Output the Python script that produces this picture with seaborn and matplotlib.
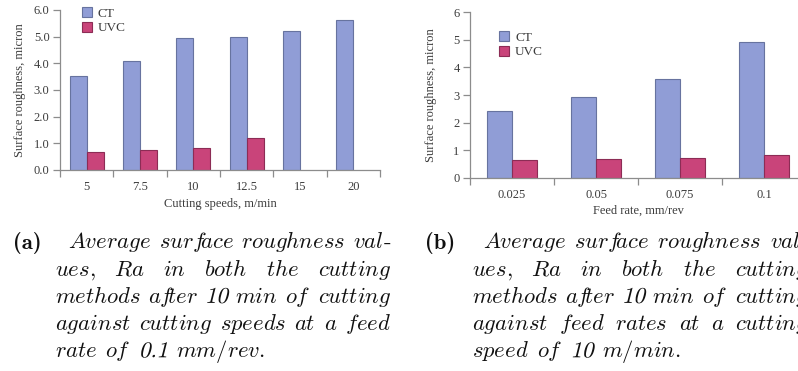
import re
import numpy as np
import pandas as pd
import matplotlib
matplotlib.use("Agg")
import matplotlib.pyplot as plt
from matplotlib.patches import Patch, PathPatch
from matplotlib.textpath import TextPath
from matplotlib.font_manager import FontProperties
from matplotlib.transforms import Affine2D, IdentityTransform
import seaborn as sns

# ---- data -------------------------------------------------------------
methods = ["CT", "UVC"]

speeds = ["5", "7.5", "10", "12.5", "15", "20"]
ct_speed = [3.52, 4.09, 4.94, 4.98, 5.21, 5.61]
uvc_speed = [0.69, 0.76, 0.81, 1.21, np.nan, np.nan]
speed_yticks = ["0.0", "1.0", "2.0", "3.0", "4.0", "5.0", "6.0"]

feeds = ["0.025", "0.05", "0.075", "0.1"]
ct_feed = [2.42, 2.93, 3.59, 4.93]
uvc_feed = [0.63, 0.68, 0.73, 0.83]
feed_yticks = ["0", "1", "2", "3", "4", "5", "6"]

caption_a = [
    "Average surface roughness val-",
    "ues, Ra in both the cutting",
    "methods after 10 min of cutting",
    "against cutting speeds at a feed",
    "rate of 0.1 mm/rev.",
]
caption_b = [
    "Average surface roughness val-",
    "ues, Ra in both the cutting",
    "methods after 10 min of cutting",
    "against feed rates at a cutting",
    "speed of 10 m/min.",
]

# ---- style ------------------------------------------------------------
sns.set_style("ticks")
plt.rcParams["font.family"] = ["Liberation Serif", "DejaVu Serif"]
plt.rcParams["mathtext.fontset"] = "cm"

fills = {"CT": "#909dd6", "UVC": "#c9447a"}
edges = {"CT": "#67739f", "UVC": "#8c2c55"}
axis_grey = "#8c8c8c"
text_grey = "#3c3c3c"
ink = "#111111"
TICK_FS = 9
LABEL_FS = 9
LEG_FS = 9.5
CAP_FS = 16.3

W_PX, H_PX = 798, 371
fig = plt.figure(figsize=(W_PX / 100, H_PX / 100), dpi=100)


def fx(x):
    return x / W_PX


def fy(y):
    return 1 - y / H_PX


def bar_panel(ax, cats, ct, uvc, yticklabels, xlabel, bar_width, legend_xy):
    df = pd.DataFrame({
        "cat": cats * 2,
        "method": ["CT"] * len(cats) + ["UVC"] * len(cats),
        "ra": list(ct) + list(uvc),
    })
    sns.barplot(data=df, x="cat", y="ra", hue="method", order=cats,
                hue_order=methods, palette=fills, saturation=1,
                width=bar_width, legend=False, ax=ax)
    for container, m in zip(ax.containers, methods):
        for bar in container:
            bar.set_edgecolor(edges[m])
            bar.set_linewidth(0.8)

    n = len(cats)
    ax.set_xlim(-0.5, n - 0.5)
    ax.set_xticks(np.arange(n + 1) - 0.5, labels=[""] * (n + 1))
    ax.set_xticks(np.arange(n), labels=cats, minor=True)
    ax.tick_params(axis="x", which="major", length=5, width=0.9,
                   color=axis_grey, direction="out")
    ax.tick_params(axis="x", which="minor", length=0, pad=8,
                   labelsize=TICK_FS, labelcolor=text_grey)
    ax.set_ylim(0, 6)
    ax.set_yticks(range(7), labels=yticklabels)
    ax.tick_params(axis="y", length=5, width=0.9, color=axis_grey, pad=2.5,
                   labelsize=TICK_FS, labelcolor=text_grey)
    sns.despine(ax=ax)
    for side in ("left", "bottom"):
        ax.spines[side].set_color(axis_grey)
        ax.spines[side].set_linewidth(0.9)

    ax.set_xlabel(xlabel, fontsize=LABEL_FS, color=text_grey)
    ax.set_ylabel("Surface roughness, micron", fontsize=LABEL_FS, color=text_grey)

    handles = [Patch(facecolor=fills[m], edgecolor=edges[m], linewidth=0.8, label=m)
               for m in methods]
    ax.legend(handles=handles, loc="upper left",
              bbox_to_anchor=(fx(legend_xy[0]), fy(legend_xy[1])),
              bbox_transform=fig.transFigure, frameon=False, borderpad=0,
              borderaxespad=0, handlelength=0.75, handleheight=0.75,
              handletextpad=0.45, labelspacing=0.15, fontsize=LEG_FS,
              labelcolor=text_grey)


ax1 = fig.add_axes([fx(60), fy(170), 320 / W_PX, 160 / H_PX])
bar_panel(ax1, speeds, ct_speed, uvc_speed, speed_yticks,
          "Cutting speeds, m/min", 0.64, (81.7, 7.5))
ax1.yaxis.set_label_coords(-0.105, 0.5)
ax1.xaxis.set_label_coords(0.5, -0.175)

ax2 = fig.add_axes([fx(470), fy(177.7), 336 / W_PX, 165.4 / H_PX])
bar_panel(ax2, feeds, ct_feed, uvc_feed, feed_yticks,
          "Feed rate, mm/rev", 0.6, (499.3, 31.5))
ax2.yaxis.set_label_coords(-0.0997, 0.5)
ax2.xaxis.set_label_coords(0.5, -0.163)

# ---- justified italic captions ----------------------------------------
renderer = fig.canvas.get_renderer()
cap_px = CAP_FS * 100 / 72
roman = FontProperties(family="cmr10")


class TextPiece:
    def __init__(self, s, family=None):
        kw = {"family": family} if family else {}
        self.artist = fig.text(0, 0, s, fontsize=CAP_FS, va="baseline",
                               ha="left", color=ink, **kw)
        self.width = self.artist.get_window_extent(renderer).width

    def place(self, x, y):
        self.artist.set_position((fx(x), fy(y)))


class SlantedNumber:
    """Roman figures sheared to sit with the italic words."""
    def __init__(self, s):
        self.path = TextPath((0, 0), s, size=cap_px, prop=roman)
        self.width = self.path.get_extents().x1 + 1.5
        self.patch = PathPatch(self.path, facecolor=ink, edgecolor="none",
                               transform=IdentityTransform())
        fig.add_artist(self.patch)

    def place(self, x, y):
        tr = Affine2D().skew_deg(14, 0).translate(x, H_PX - y)
        self.patch.set_transform(tr)


def italic(s):
    # pull the letter after a mid-word math-italic f back in
    return r"$\mathit{" + re.sub(r"(?<=[a-z])f(?=[a-z])", r"f\\!", s) + "}$"


def word_pieces(word):
    if all(c.isdigit() or c == "." for c in word):
        return [SlantedNumber(word)]
    if word.endswith("-"):
        return [TextPiece(italic(word[:-1])), TextPiece("-", family="cmr10")]
    return [TextPiece(italic(word))]


def caption(tag, lines, tag_x, first_x, body_x, right_x, base_y, step):
    fig.text(fx(tag_x), fy(base_y), tag, family="cmb10", fontsize=CAP_FS,
             va="baseline", ha="left", color=ink)
    for i, line in enumerate(lines):
        y = base_y + i * step
        x0 = first_x if i == 0 else body_x
        words = [word_pieces(w) for w in line.split()]
        total = sum(p.width for w in words for p in w)
        if i < len(lines) - 1 and len(words) > 1:
            gap = (right_x - x0 - total) / (len(words) - 1)
        else:
            gap = 0.36 * cap_px
        x = x0
        for pieces in words:
            for p in pieces:
                p.place(x, y)
                x += p.width
            x += gap


caption("(a)", caption_a, 13, 68, 55, 391, 248.5, 27.2)
caption("(b)", caption_b, 425, 483, 472, 808, 248.5, 27.2)

fig.savefig("out.png", dpi=100)
